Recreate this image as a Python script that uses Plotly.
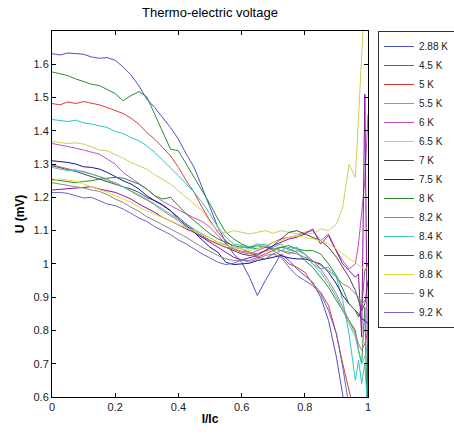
import plotly.graph_objects as go

x = [0, .025, .05, .075, .1, .125, .15, .175, .2, .225, .25, .275, .3, .325, .35,
     .375, .4, .425, .45, .475, .5, .525, .55, .575, .6, .625, .65, .675, .7, .725,
     .75, .775, .8, .825, .85, .875, .9, .92, .94, .96, .97, .98, .99, 1.0]

names = ["2.88 K", "4.5 K", "5 K", "5.5 K", "6 K", "6.5 K", "7 K", "7.5 K",
         "8 K", "8.2 K", "8.4 K", "8.6 K", "8.8 K", "9 K", "9.2 K"]

colors = ["#4f4fc8", "#2a8a3e", "#e03a3a", "#30c0c8", "#c050c8", "#cfcf5a", "#4a4a4a",
          "#1414a0", "#2a8a2a", "#d06a6a", "#40c8c8", "#9010a0", "#e0e030", "#8a8a8a",
          "#6868c8"]

u_288 = [1.632, 1.628, 1.634, 1.633, 1.630, 1.622, 1.618, 1.620, 1.612, 1.592,
         1.568, 1.535, 1.495, 1.470, 1.440, 1.410, 1.375, 1.330, 1.290, 1.230,
         1.170, 1.110, 1.065, 1.030, 1.005, 0.960, 0.905, 0.950, 0.990, 1.030,
         1.010, 0.985, 0.965, 0.945, 0.900, 0.830, 0.720, 0.595, 0.450, 0.350,
         0.300, 0.250, 0.200, 0.150]
u_45 = [1.577, 1.572, 1.566, 1.556, 1.548, 1.540, 1.536, 1.525, 1.512, 1.490,
        1.506, 1.518, 1.502, 1.450, 1.395, 1.345, 1.340, 1.300, 1.262, 1.222,
        1.180, 1.135, 1.095, 1.075, 1.060, 1.050, 1.045, 1.055, 1.040, 1.050,
        1.045, 1.035, 1.010, 0.990, 0.960, 0.930, 0.890, 0.860, 0.830, 0.800,
        0.740, 0.700, 0.870, 0.450]
u_5 = [1.482, 1.478, 1.487, 1.482, 1.488, 1.484, 1.478, 1.470, 1.462, 1.452,
       1.438, 1.420, 1.395, 1.375, 1.350, 1.325, 1.290, 1.250, 1.215, 1.170,
       1.130, 1.095, 1.070, 1.050, 1.045, 1.035, 1.020, 1.030, 1.040, 1.025,
       1.000, 0.990, 0.975, 0.940, 0.915, 0.875, 0.790, 0.700, 0.625, 0.550,
       0.500, 0.450, 0.400, 0.350]
u_55 = [1.434, 1.430, 1.428, 1.432, 1.424, 1.420, 1.414, 1.410, 1.398, 1.392,
        1.380, 1.370, 1.355, 1.335, 1.312, 1.290, 1.265, 1.240, 1.215, 1.185,
        1.150, 1.110, 1.080, 1.060, 1.055, 1.050, 1.060, 1.055, 1.050, 1.060,
        1.040, 1.050, 1.030, 1.000, 0.985, 0.990, 0.960, 0.890, 0.790, 0.650,
        0.710, 0.640, 0.700, 0.550]
u_6 = [1.362, 1.358, 1.352, 1.348, 1.342, 1.335, 1.330, 1.315, 1.300, 1.275,
       1.258, 1.240, 1.225, 1.205, 1.188, 1.175, 1.162, 1.150, 1.138, 1.128,
       1.110, 1.085, 1.060, 1.045, 1.035, 1.030, 1.040, 1.050, 1.065, 1.075,
       1.080, 1.085, 1.095, 1.100, 1.070, 1.090, 1.040, 1.010, 0.985, 1.000,
       1.060, 1.160, 1.250, 1.450]
u_65 = [1.368, 1.366, 1.362, 1.364, 1.360, 1.352, 1.342, 1.340, 1.330, 1.318,
        1.305, 1.295, 1.285, 1.268, 1.255, 1.240, 1.220, 1.200, 1.180, 1.160,
        1.125, 1.100, 1.092, 1.100, 1.095, 1.090, 1.095, 1.100, 1.092, 1.100,
        1.095, 1.090, 1.095, 1.090, 1.105, 1.100, 1.120, 1.170, 1.300, 1.260,
        1.440, 1.620, 1.800, 2.000]
u_7 = [1.295, 1.290, 1.285, 1.278, 1.270, 1.262, 1.255, 1.248, 1.240, 1.232,
       1.225, 1.215, 1.200, 1.190, 1.175, 1.160, 1.140, 1.120, 1.100, 1.085,
       1.070, 1.060, 1.050, 1.040, 1.030, 1.025, 1.030, 1.040, 1.055, 1.075,
       1.095, 1.100, 1.090, 1.080, 1.070, 1.050, 1.020, 0.990, 0.960, 0.920,
       0.890, 0.860, 0.880, 0.950]
u_75 = [1.310, 1.308, 1.305, 1.300, 1.292, 1.290, 1.285, 1.275, 1.262, 1.250,
        1.240, 1.225, 1.205, 1.190, 1.178, 1.160, 1.135, 1.115, 1.095, 1.072,
        1.050, 1.035, 1.005, 0.998, 1.000, 1.002, 1.010, 1.015, 1.020, 1.025,
        1.018, 1.015, 1.015, 1.008, 1.000, 0.975, 0.940, 0.905, 0.880, 0.860,
        0.850, 0.835, 0.830, 0.820]
u_8 = [1.254, 1.250, 1.246, 1.244, 1.248, 1.250, 1.255, 1.258, 1.260, 1.258,
       1.250, 1.240, 1.225, 1.205, 1.195, 1.200, 1.175, 1.150, 1.130, 1.110,
       1.090, 1.075, 1.065, 1.055, 1.050, 1.050, 1.055, 1.050, 1.045, 1.050,
       1.055, 1.045, 1.040, 1.040, 1.030, 1.000, 0.965, 0.925, 0.880, 0.860,
       0.840, 0.870, 0.980, 1.000]
u_82 = [1.298, 1.292, 1.285, 1.280, 1.278, 1.270, 1.262, 1.255, 1.240, 1.232,
        1.218, 1.205, 1.190, 1.178, 1.160, 1.145, 1.130, 1.110, 1.095, 1.080,
        1.070, 1.060, 1.050, 1.045, 1.038, 1.035, 1.030, 1.038, 1.045, 1.040,
        1.030, 1.040, 1.030, 1.010, 0.985, 0.950, 0.910, 0.870, 0.830, 0.790,
        0.760, 0.740, 0.760, 0.800]
u_84 = [1.290, 1.285, 1.280, 1.283, 1.275, 1.270, 1.262, 1.250, 1.245, 1.232,
        1.220, 1.208, 1.195, 1.180, 1.165, 1.150, 1.135, 1.120, 1.105, 1.090,
        1.078, 1.065, 1.058, 1.048, 1.052, 1.045, 1.055, 1.060, 1.048, 1.040,
        1.050, 1.045, 1.030, 1.000, 0.975, 0.940, 0.900, 0.860, 0.820, 0.780,
        0.740, 0.700, 0.720, 0.760]
u_86 = [1.222, 1.224, 1.226, 1.228, 1.230, 1.232, 1.225, 1.220, 1.215, 1.205,
        1.195, 1.180, 1.168, 1.155, 1.140, 1.130, 1.118, 1.105, 1.095, 1.080,
        1.065, 1.050, 1.035, 1.020, 1.012, 1.018, 1.025, 1.040, 1.055, 1.065,
        1.075, 1.080, 1.090, 1.105, 1.060, 1.085, 1.040, 1.000, 0.980, 0.960,
        0.970, 0.780, 1.510, 0.550]
u_88 = [1.250, 1.255, 1.252, 1.248, 1.240, 1.232, 1.225, 1.215, 1.205, 1.195,
        1.185, 1.170, 1.160, 1.148, 1.138, 1.128, 1.118, 1.110, 1.100, 1.090,
        1.078, 1.065, 1.055, 1.050, 1.045, 1.040, 1.045, 1.055, 1.065, 1.070,
        1.080, 1.085, 1.080, 1.075, 1.070, 1.060, 1.045, 1.030, 1.015, 1.005,
        0.995, 0.990, 0.985, 0.990]
u_9 = [1.244, 1.240, 1.238, 1.232, 1.228, 1.222, 1.218, 1.208, 1.195, 1.185,
       1.170, 1.158, 1.142, 1.130, 1.118, 1.105, 1.092, 1.080, 1.065, 1.050,
       1.038, 1.025, 1.015, 1.010, 1.012, 1.005, 1.015, 1.025, 1.030, 1.040,
       1.035, 1.030, 1.020, 1.010, 0.995, 0.980, 0.960, 0.940, 0.930, 0.910,
       0.900, 0.880, 0.890, 0.900]
u_92 = [1.214, 1.215, 1.212, 1.205, 1.198, 1.200, 1.190, 1.180, 1.175, 1.165,
        1.152, 1.138, 1.128, 1.112, 1.100, 1.088, 1.072, 1.060, 1.045, 1.030,
        1.018, 1.005, 0.998, 1.002, 1.012, 1.010, 1.020, 1.015, 1.030, 1.020,
        0.990, 0.965, 0.950, 0.935, 0.910, 0.860, 0.790, 0.690, 0.570, 0.450,
        0.400, 0.350, 0.300, 0.250]

series = [u_288, u_45, u_5, u_55, u_6, u_65, u_7, u_75, u_8, u_82, u_84, u_86,
          u_88, u_9, u_92]

x_ticks = [0, 0.2, 0.4, 0.6, 0.8, 1]
x_ticktext = ["0", "0.2", "0.4", "0.6", "0.8", "1"]
y_ticks = [0.6, 0.7, 0.8, 0.9, 1.0, 1.1, 1.2, 1.3, 1.4, 1.5, 1.6]
y_ticktext = ["0.6", "0.7", "0.8", "0.9", "1", "1.1", "1.2", "1.3", "1.4", "1.5", "1.6"]

FONT = "Liberation Sans, Arial, sans-serif"

fig = go.Figure()
for name, col, ys in zip(names, colors, series):
    fig.add_trace(go.Scatter(x=x, y=ys, mode="lines", name=name,
                             line=dict(color=col, width=1)))

axis_common = dict(showline=True, linecolor="#000", linewidth=1, mirror="ticks",
                   ticks="inside", ticklen=4, tickcolor="#000", showgrid=False,
                   zeroline=False, tickfont=dict(family=FONT, size=11, color="#222"))

fig.update_layout(
    width=454, height=434,
    margin=dict(l=52, r=86, t=31, b=37, autoexpand=False),
    paper_bgcolor="white", plot_bgcolor="white",
    font=dict(family=FONT, color="#000"),
    title=dict(text="Thermo-electric voltage", x=0.4626, xanchor="center",
               y=0.972, yanchor="middle", font=dict(size=13, color="#000")),
    xaxis=dict(range=[0, 1], tickvals=x_ticks, ticktext=x_ticktext,
               title=dict(text="<b>I/Ic</b>", font=dict(size=12), standoff=2),
               **axis_common),
    yaxis=dict(range=[0.6, 1.7], tickvals=y_ticks, ticktext=y_ticktext,
               title=dict(text="<b>U (mV)</b>", font=dict(size=12), standoff=6),
               **axis_common),
    legend=dict(x=1.0316, xanchor="left", y=1.0, yanchor="top",
                bgcolor="white", bordercolor="#333", borderwidth=1,
                font=dict(family=FONT, size=10, color="#222"),
                itemwidth=30, tracegroupgap=0),
    showlegend=True,
)

fig.write_html("out.html",
               config={"displayModeBar": False},
               post_script="document.body.style.margin='0px';")
